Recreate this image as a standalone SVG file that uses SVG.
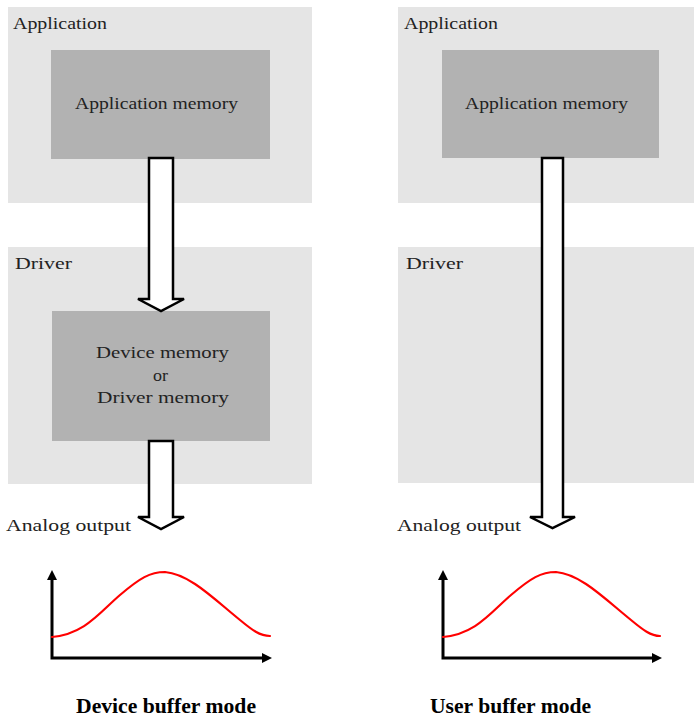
<svg xmlns="http://www.w3.org/2000/svg" width="694" height="718" viewBox="0 0 694 718">
<style>
.outer{fill:#e5e5e5}
.inner{fill:#b2b2b2}
.lbl{font-family:"Liberation Serif","Times New Roman",serif;font-size:17px;fill:#222}
.title{font-family:"Liberation Serif","Times New Roman",serif;font-size:20px;font-weight:bold;fill:#000}
.arrow{fill:#fff;stroke:#000;stroke-width:2.5;stroke-linejoin:miter}
.axis{stroke:#000;stroke-width:3;fill:none}
.curve{stroke:#f00;stroke-width:2.2;fill:none;stroke-linejoin:round;stroke-linecap:round}
</style>
<rect width="694" height="718" fill="#fff"/>

<g id="left-application">
<rect class="outer" x="8" y="7" width="304" height="196"/>
<text class="lbl" x="13" y="29" textLength="94" lengthAdjust="spacingAndGlyphs">Application</text>
</g>
<g id="left-app-memory">
<rect class="inner" x="51" y="50" width="219" height="109"/>
<text class="lbl" x="75" y="109" textLength="163" lengthAdjust="spacingAndGlyphs">Application memory</text>
</g>
<g id="left-driver">
<rect class="outer" x="8" y="247" width="304" height="237"/>
<text class="lbl" x="15" y="269" textLength="57" lengthAdjust="spacingAndGlyphs">Driver</text>
</g>
<g id="left-device-memory">
<rect class="inner" x="52" y="311" width="218" height="130"/>
<text class="lbl" x="96" y="358" textLength="133" lengthAdjust="spacingAndGlyphs">Device memory</text>
<text class="lbl" x="153" y="381" textLength="15" lengthAdjust="spacingAndGlyphs">or</text>
<text class="lbl" x="97" y="403" textLength="132" lengthAdjust="spacingAndGlyphs">Driver memory</text>
</g>

<g id="right-application">
<rect class="outer" x="398" y="7" width="296" height="196"/>
<text class="lbl" x="404" y="29" textLength="94" lengthAdjust="spacingAndGlyphs">Application</text>
</g>
<g id="right-app-memory">
<rect class="inner" x="442" y="50" width="217" height="108"/>
<text class="lbl" x="465" y="109" textLength="163" lengthAdjust="spacingAndGlyphs">Application memory</text>
</g>
<g id="right-driver">
<rect class="outer" x="398" y="247" width="296" height="236"/>
<text class="lbl" x="406" y="269" textLength="57" lengthAdjust="spacingAndGlyphs">Driver</text>
</g>

<g id="connectors">
<path class="arrow" d="M149,158 L173,158 L173,299 L184,299 L161,311 L138,299 L149,299 Z"/>
<path class="arrow" d="M149,441 L173,441 L173,517 L184,517 L161,529 L138,517 L149,517 Z"/>
<path class="arrow" d="M542,158 L563,158 L563,517 L575,517 L552.5,528 L530,517 L542,517 Z"/>
</g>

<g id="left-output">
<text class="lbl" x="6" y="531" textLength="125" lengthAdjust="spacingAndGlyphs">Analog output</text>
<polyline class="axis" points="52,578 52,658 264,658"/>
<path d="M52,570 L47,580 L57,580 Z" fill="#000"/>
<path d="M272,658 L262,653 L262,663 Z" fill="#000"/>
<path class="curve" d="M52,637 C85,634 100,612 120,595 C140,578 150,572 165,572 C190,574 215,600 240,620 C252,630 260,636 270,636"/>
</g>
<g id="right-output">
<text class="lbl" x="397" y="531" textLength="124" lengthAdjust="spacingAndGlyphs">Analog output</text>
<polyline class="axis" points="443,578 443,658 654,658"/>
<path d="M443,570 L438,580 L448,580 Z" fill="#000"/>
<path d="M662,658 L652,653 L652,663 Z" fill="#000"/>
<path class="curve" d="M443,637 C476,634 491,612 511,595 C531,578 541,572 556,572 C581,574 606,600 631,620 C643,630 651,636 660,636"/>
</g>

<g id="captions">
<text class="title" x="76" y="713" textLength="180" lengthAdjust="spacingAndGlyphs">Device buffer mode</text>
<text class="title" x="430" y="713" textLength="161" lengthAdjust="spacingAndGlyphs">User buffer mode</text>
</g>
</svg>
